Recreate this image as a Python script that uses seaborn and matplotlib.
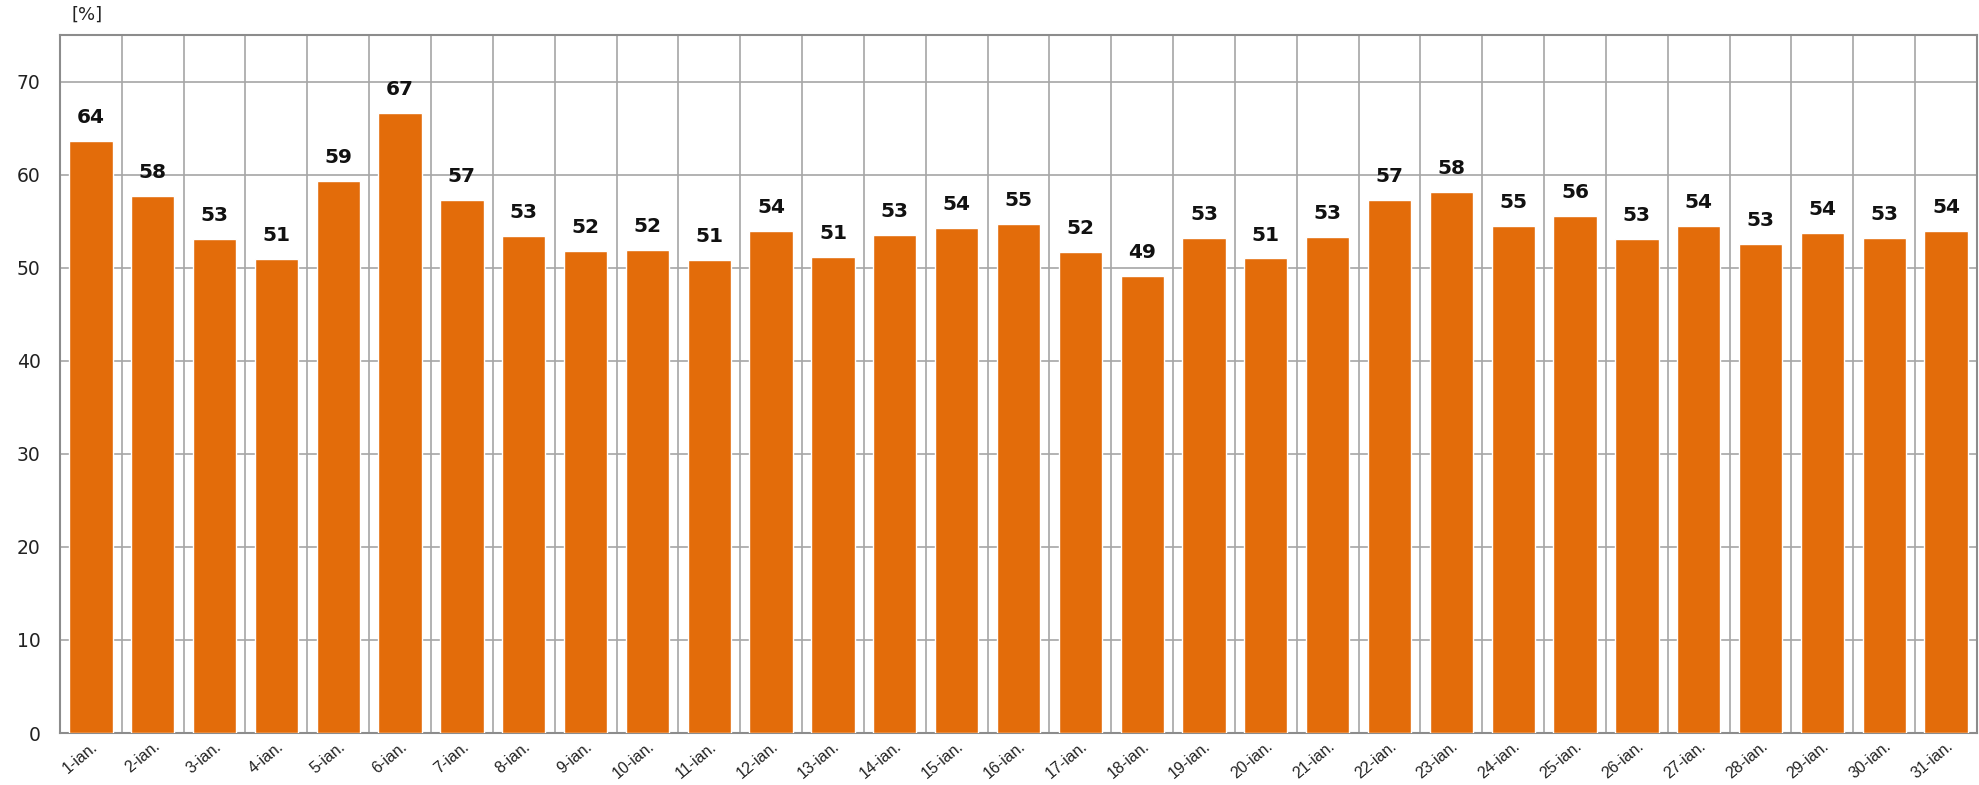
import numpy as np
import pandas as pd
import seaborn as sns
import matplotlib.pyplot as plt
from matplotlib.ticker import MultipleLocator

# daily values (%)
days = [f"{d}-ian." for d in range(1, 32)]
values = [63.6, 57.7, 53.1, 50.9, 59.3, 66.6, 57.3, 53.4, 51.8, 51.9,
          50.8, 54.0, 51.2, 53.5, 54.3, 54.7, 51.7, 49.1, 53.2, 51.0,
          53.3, 57.3, 58.1, 54.5, 55.6, 53.1, 54.5, 52.6, 53.7, 53.2, 54.0]
labels = [64, 58, 53, 51, 59, 67, 57, 53, 52, 52, 51, 54, 51, 53, 54, 55,
          52, 49, 53, 51, 53, 57, 58, 55, 56, 53, 54, 53, 54, 53, 54]

df = pd.DataFrame({"day": days, "value": values})

sns.set_style("white")
plt.rcParams['font.family'] = ['DejaVu Sans']

fig = plt.figure(figsize=(19.79, 7.85), dpi=100)
ax = fig.add_axes([0.0303, 0.0662, 0.9687, 0.889])

sns.barplot(data=df, x="day", y="value", color="#E36C0A", saturation=1,
            width=0.7, ax=ax, zorder=3)

for i, (v, lab) in enumerate(zip(values, labels)):
    ax.text(i, v + 1.5, str(lab), ha="center", va="bottom",
            fontsize=14.5, fontweight="bold", color="#111111", zorder=4)

ax.set_ylim(0, 75)
ax.set_xlim(-0.5, len(days) - 0.5)
ax.yaxis.set_major_locator(MultipleLocator(10))
ax.xaxis.set_minor_locator(MultipleLocator(1, offset=0.5))

ax.grid(axis="y", which="major", color="#A6A6A6", linewidth=1.2, zorder=0)
ax.grid(axis="x", which="minor", color="#A6A6A6", linewidth=1.2, zorder=0)
ax.set_axisbelow(True)
for s in ax.spines.values():
    s.set_color("#8C8C8C")
    s.set_linewidth(1.5)

ax.tick_params(axis="both", which="both", length=0)
ax.tick_params(axis="y", labelsize=13.5, pad=14, labelcolor="#222222")
ax.set_xticks(range(len(days)))
ax.set_xticklabels(days, rotation=40, ha="right", rotation_mode="anchor",
                   fontsize=11.5, family="Liberation Sans", color="#222222")
ax.tick_params(axis="x", pad=4)
ax.set_xlabel("")
ax.set_ylabel("")

fig.text(0.044, 0.981, "[%]", fontsize=13, color="#222222",
         ha="center", va="center")

fig.savefig("out.png", dpi=100)
